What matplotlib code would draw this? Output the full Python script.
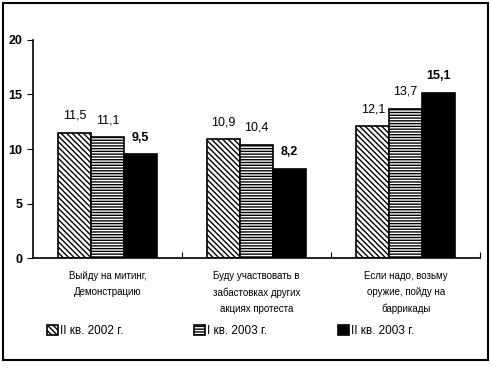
import matplotlib.pyplot as plt
import matplotlib.patches as mpatches
import numpy as np

plt.rcParams['font.family'] = ['Liberation Sans', 'DejaVu Sans']
plt.rcParams['hatch.linewidth'] = 1.0

categories = ['Выйду на митинг,\nДемонстрацию',
              'Буду участвовать в\nзабастовках других\nакциях протеста',
              'Если надо, возьму\nоружие, пойду на\nбаррикады']
series_names = ['II кв. 2002 г.', 'I кв. 2003 г.', 'II кв. 2003 г.']
q2_2002 = [11.5, 10.9, 12.1]
q1_2003 = [11.1, 10.4, 13.7]
q2_2003 = [9.5, 8.2, 15.1]

fig = plt.figure(figsize=(4.91, 3.73), dpi=100)
ax = fig.add_axes([0.067, 0.308, 0.911, 0.585])

x = np.arange(len(categories))
w = 0.22
styles = [dict(facecolor='white', hatch='\\\\\\\\\\\\'),
          dict(facecolor='white', hatch='------'),
          dict(facecolor='black', hatch=None)]
handles = []
for i, (vals, st) in enumerate(zip([q2_2002, q1_2003, q2_2003], styles)):
    bars = ax.bar(x + (i - 1) * w, vals, w, edgecolor='black', linewidth=1.2,
                  label=series_names[i], **st)
    handles.append(bars)
    for xi, v in zip(x + (i - 1) * w, vals):
        ax.text(xi, v + 1.0, f'{v:.1f}'.replace('.', ','), ha='center', va='bottom',
                fontsize=9, fontweight='bold' if i == 2 else 'normal')

ax.set_xlim(-0.5, 2.5)
ax.set_ylim(0, 20)
ax.set_yticks([0, 5, 10, 15, 20])
ax.set_xticks([0.5, 1.5, 2.5], minor=False)
ax.set_xticklabels(['', '', ''])
ax.tick_params(axis='x', direction='in', length=4)
ax.tick_params(axis='y', direction='out', length=4, labelsize=9)
for lab in ax.get_yticklabels():
    lab.set_fontweight('bold')
ax.spines['top'].set_visible(False)
ax.spines['right'].set_visible(False)
ax.spines['left'].set_linewidth(1.2)
ax.spines['bottom'].set_linewidth(1.2)

for xi, c in zip(x, categories):
    ax.text(xi, -1.2, c, ha='center', va='top', fontsize=7, linespacing=1.75,
            transform=ax.transData)

fig.legend(handles=handles, labels=series_names, loc='center', ncol=3,
           bbox_to_anchor=(0.47, 0.113), frameon=False, fontsize=8.5,
           handlelength=0.9, handleheight=0.9, handletextpad=0.2, columnspacing=6.0)

fig.patches.append(mpatches.Rectangle((0.006, 0.035), 0.988, 0.957, transform=fig.transFigure,
                                      fill=False, edgecolor='black', linewidth=1.5))

fig.savefig('out.png', dpi=100)
